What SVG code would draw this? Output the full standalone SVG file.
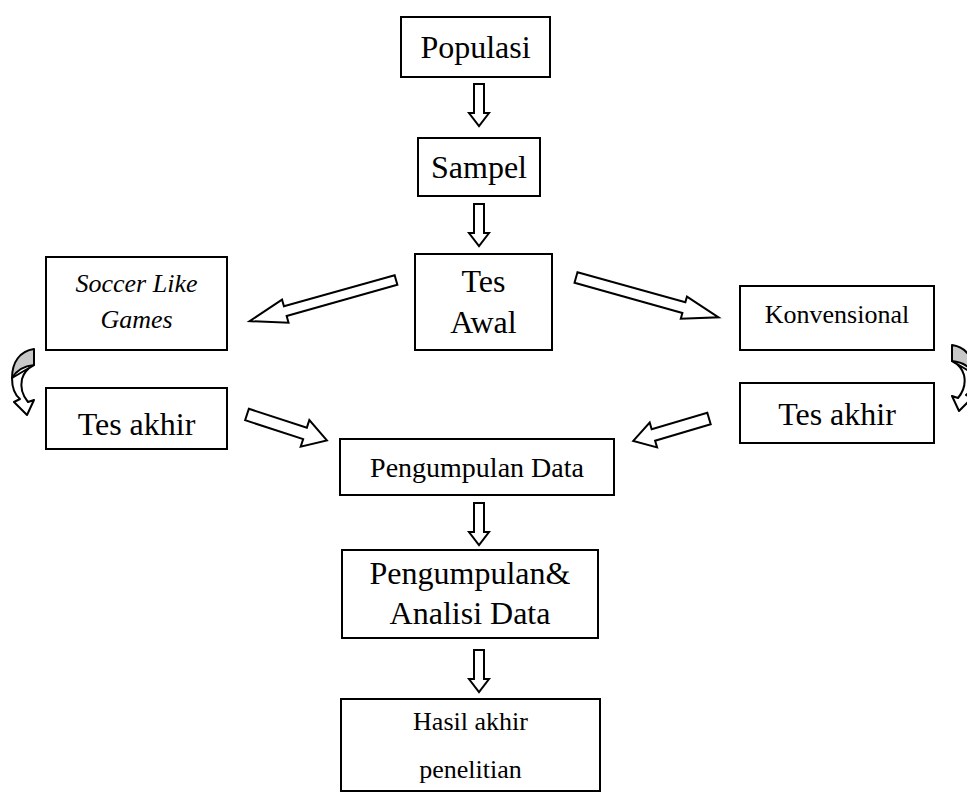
<svg xmlns="http://www.w3.org/2000/svg" width="967" height="792" viewBox="0 0 967 792">
<defs>
<style>
.box{fill:#fff;stroke:#000;stroke-width:2}
.arr{fill:#fff;stroke:#000;stroke-width:2;stroke-linejoin:miter}
.t{font-family:"Liberation Serif","Times New Roman",serif;fill:#000;text-anchor:middle}
.big{font-size:32px}
.sm{font-size:26px}
.it{font-style:italic}
.gray{fill:#c8c8c8;stroke:#000;stroke-width:2;stroke-linejoin:round}
.wc{fill:#fff;stroke:#000;stroke-width:2;stroke-linejoin:round}
</style>
<path id="dn" d="M-5,0 H5 V29 H10 L0,42 L-10,29 H-5 Z"/>
<g id="curve">
<path class="wc" d="M12,378 C12,389 15,395 20,399 L14,402 L27,415 L34,400 L28,402 C23,396 20,388 22,379 C24,372 28,368 34,365 Z"/>
<path class="gray" d="M34,349 C20,351 12,362 12,378 C16,371 24,366 34,365 Z"/>
</g>
</defs>
<rect width="967" height="792" fill="#fff"/>
<g id="connectors">
<use href="#dn" class="arr" transform="translate(479,84)"/>
<use href="#dn" class="arr" transform="translate(479,204)"/>
<use href="#dn" class="arr" transform="translate(479,503)"/>
<use href="#dn" class="arr" transform="translate(479,650)"/>
<polygon class="arr" transform="translate(396,280) rotate(164.3)" points="0,-5 115,-5 115,-12 152,0 115,12 115,5 0,5"/>
<polygon class="arr" transform="translate(576,277.5) rotate(15.6)" points="0,-5.5 112,-5.5 112,-11.5 148,0 112,11.5 112,5.5 0,5.5"/>
<polygon class="arr" transform="translate(247,414.5) rotate(18)" points="0,-6 61,-6 61,-14 84,0 61,14 61,6 0,6"/>
<polygon class="arr" transform="translate(709,418.5) rotate(163.5)" points="0,-6 58,-6 58,-13 79,0 58,13 58,6 0,6"/>
<use href="#curve"/>
<use href="#curve" transform="translate(986,-4) scale(-1,1)"/>
</g>
<g id="populasi"><rect class="box" x="401" y="17" width="149" height="60"/><text class="t big" x="475.5" y="58">Populasi</text></g>
<g id="sampel"><rect class="box" x="418" y="138" width="122" height="58"/><text class="t big" x="479" y="178">Sampel</text></g>
<g id="tesawal"><rect class="box" x="415" y="254" width="137" height="96"/><text class="t big" x="483.5" y="292">Tes</text><text class="t big" x="483.5" y="333">Awal</text></g>
<g id="soccer"><rect class="box" x="46" y="257" width="181" height="93"/><text class="t sm it" x="136.5" y="292">Soccer Like</text><text class="t sm it" x="136.5" y="328">Games</text></g>
<g id="konvensional"><rect class="box" x="740" y="286" width="194" height="64"/><text class="t sm" x="837" y="323">Konvensional</text></g>
<g id="tesakhirL"><rect class="box" x="46" y="388" width="181" height="61"/><text class="t big" x="136.5" y="435">Tes akhir</text></g>
<g id="tesakhirR"><rect class="box" x="740" y="383" width="194" height="60"/><text class="t big" x="837" y="425">Tes akhir</text></g>
<g id="pengdata"><rect class="box" x="340" y="439" width="274" height="56"/><text class="t" x="477" y="477" style="font-size:28px">Pengumpulan Data</text></g>
<g id="analisis"><rect class="box" x="342" y="550" width="256" height="88"/><text class="t big" x="470" y="584">Pengumpulan&amp;</text><text class="t big" x="470" y="624">Analisi Data</text></g>
<g id="hasil"><rect class="box" x="341" y="699" width="259" height="92"/><text class="t sm" x="470.5" y="730">Hasil akhir</text><text class="t sm" x="470.5" y="778">penelitian</text></g>
</svg>
